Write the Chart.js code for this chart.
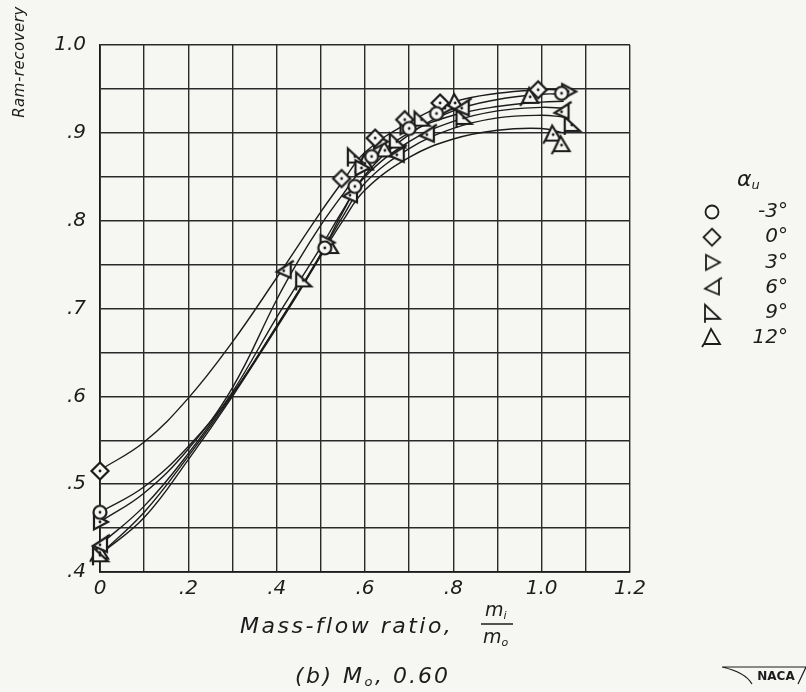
<!DOCTYPE html>
<html>
<head>
<meta charset="utf-8">
<script src="https://cdn.jsdelivr.net/npm/chart.js@4/dist/chart.umd.min.js"></script>
<style>
html, body { margin: 0; padding: 0; background: #f6f6f3; }
</style>
</head>
<body>
<canvas id="ramChart" width="806" height="692"></canvas>
<script>
// angle of attack for each series
const angles = ["-3°", "0°", "3°", "6°", "9°", "12°"];

// tick labels
const xTickLabels = ["0", ".2", ".4", ".6", ".8", "1.0", "1.2"];
const yTickLabels = [".4", ".5", ".6", ".7", ".8", ".9", "1.0"];

// test points [mass-flow ratio, ram-recovery]
const pointsM3 = [[0, 0.468], [0.509, 0.769], [0.577, 0.839], [0.615, 0.873], [0.70, 0.905], [0.762, 0.922], [1.045, 0.945]];
const points0 = [[0, 0.515], [0.547, 0.848], [0.623, 0.894], [0.69, 0.915], [0.77, 0.934], [0.992, 0.949]];
const points3 = [[0, 0.457], [0.513, 0.775], [0.592, 0.86], [0.634, 0.89], [0.694, 0.907], [0.781, 0.928], [1.06, 0.947]];
const points6 = [[0, 0.431], [0.416, 0.743], [0.566, 0.829], [0.672, 0.875], [0.74, 0.898], [0.819, 0.928], [1.045, 0.924]];
const points9 = [[0, 0.419], [0.46, 0.732], [0.577, 0.873], [0.672, 0.89], [0.728, 0.915], [0.823, 0.917], [1.068, 0.909]];
const points12 = [[0, 0.422], [0.521, 0.77], [0.60, 0.865], [0.645, 0.88], [0.804, 0.934], [0.974, 0.941], [1.026, 0.898], [1.045, 0.886]];

// faired curves
const curveM3 = [[0, 0.468], [0.1, 0.497], [0.2, 0.543], [0.3, 0.603], [0.4, 0.68], [0.45, 0.72], [0.5, 0.762], [0.55, 0.81], [0.6, 0.852], [0.7, 0.898], [0.8, 0.925], [0.9, 0.938], [1.0, 0.944], [1.05, 0.944]];
const curve0 = [[0, 0.516], [0.1, 0.548], [0.2, 0.598], [0.3, 0.662], [0.4, 0.735], [0.5, 0.81], [0.55, 0.845], [0.6, 0.878], [0.7, 0.912], [0.8, 0.935], [0.9, 0.945], [1.0, 0.949], [1.05, 0.949]];
const curve3 = [[0, 0.457], [0.1, 0.49], [0.2, 0.54], [0.3, 0.61], [0.4, 0.71], [0.45, 0.755], [0.5, 0.795], [0.55, 0.83], [0.6, 0.862], [0.7, 0.9], [0.8, 0.92], [0.9, 0.93], [1.0, 0.935], [1.05, 0.936]];
const curve6 = [[0, 0.431], [0.1, 0.475], [0.2, 0.535], [0.3, 0.605], [0.4, 0.69], [0.45, 0.73], [0.5, 0.77], [0.55, 0.812], [0.6, 0.85], [0.7, 0.89], [0.8, 0.913], [0.9, 0.925], [1.0, 0.929], [1.05, 0.928]];
const curve9 = [[0, 0.42], [0.1, 0.468], [0.2, 0.532], [0.3, 0.602], [0.4, 0.68], [0.45, 0.72], [0.5, 0.762], [0.55, 0.805], [0.6, 0.843], [0.7, 0.882], [0.8, 0.905], [0.9, 0.917], [1.0, 0.92], [1.05, 0.918]];
const curve12 = [[0, 0.42], [0.1, 0.462], [0.2, 0.528], [0.3, 0.6], [0.4, 0.678], [0.45, 0.718], [0.5, 0.76], [0.55, 0.8], [0.6, 0.835], [0.7, 0.872], [0.8, 0.893], [0.9, 0.903], [1.0, 0.905], [1.05, 0.9]];

const allPoints = [pointsM3, points0, points3, points6, points9, points12];
const allCurves = [curveM3, curve0, curve3, curve6, curve9, curve12];
const markerKinds = ["circle", "diamond", "right", "left", "flagRight", "up"];

const ink = "#1c1c1c";
const paper = "#f6f6f3";
const letterFont = "'DejaVu Sans'";

// small open symbols, drawn once into canvases
function makeMarker(kind, dot, lw) {
    const s = 24;
    const c = document.createElement("canvas");
    c.width = s;
    c.height = s;
    const g = c.getContext("2d");
    g.translate(s / 2, s / 2);
    g.lineWidth = lw;
    g.strokeStyle = ink;
    g.fillStyle = paper;
    g.lineJoin = "miter";
    g.beginPath();
    if (kind === "circle") {
        g.arc(0, 0, 6.5, 0, Math.PI * 2);
    } else if (kind === "diamond") {
        g.moveTo(0, -8.5); g.lineTo(8.5, 0); g.lineTo(0, 8.5); g.lineTo(-8.5, 0); g.closePath();
    } else if (kind === "right") {
        g.moveTo(-6, -7.5); g.lineTo(8, 0); g.lineTo(-6, 7.5); g.closePath();
    } else if (kind === "left") {
        g.moveTo(7, -8); g.lineTo(-7, 1); g.lineTo(7, 7); g.closePath();
    } else if (kind === "flagRight") {
        g.moveTo(-7, -8); g.lineTo(8, 6); g.lineTo(-7, 6); g.closePath();
    } else {
        g.moveTo(-1, -9); g.lineTo(8, 6); g.lineTo(-8, 6); g.closePath();
    }
    g.fill();
    g.stroke();
    if (kind === "left") {
        g.beginPath(); g.moveTo(7, -8); g.lineTo(10, -10); g.stroke();
    } else if (kind === "flagRight") {
        g.beginPath(); g.moveTo(-7, 6); g.lineTo(-7, 10); g.stroke();
    } else if (kind === "up") {
        g.beginPath(); g.moveTo(-8, 6); g.lineTo(-10, 9); g.stroke();
    }
    if (dot) {
        g.fillStyle = ink;
        g.beginPath();
        g.arc(0, 0, 1.4, 0, Math.PI * 2);
        g.fill();
    }
    return c;
}

const dataMarkers = markerKinds.map((k) => makeMarker(k, true, 2.2));
const legendMarkers = markerKinds.map((k) => makeMarker(k, false, 1.8));

const toXY = (arr) => arr.map((p) => ({ x: p[0], y: p[1] }));

const datasets = [];
allCurves.forEach((c, i) => {
    datasets.push({
        label: "curve " + angles[i],
        data: toXY(c),
        showLine: true,
        borderColor: ink,
        borderWidth: 1.4,
        tension: 0.4,
        pointRadius: 0,
        fill: false,
        order: 2,
    });
});
allPoints.forEach((p, i) => {
    datasets.push({
        label: angles[i],
        data: toXY(p),
        showLine: false,
        pointStyle: dataMarkers[i],
        pointRadius: 8,
        clip: false,
        order: 1,
    });
});

function drawSub(ctx, main, sub, x, y, size, spacing) {
    ctx.letterSpacing = (spacing || 0) + "px";
    ctx.font = "italic " + size + "px " + letterFont;
    ctx.fillText(main, x, y);
    const w = ctx.measureText(main).width;
    ctx.font = "italic " + Math.round(size * 0.6) + "px " + letterFont;
    ctx.fillText(sub, x + w, y + size * 0.25);
    const end = x + w + ctx.measureText(sub).width;
    ctx.letterSpacing = "0px";
    return end;
}

const paperText = {
    id: "paperText",
    beforeDraw(chart) {
        const ctx = chart.ctx;
        ctx.save();
        ctx.fillStyle = paper;
        ctx.fillRect(0, 0, chart.width, chart.height);
        ctx.restore();
    },
    afterDraw(chart) {
        const ctx = chart.ctx;
        ctx.save();
        ctx.fillStyle = ink;
        ctx.strokeStyle = ink;
        ctx.textBaseline = "middle";

        // y title, up in the corner
        ctx.save();
        ctx.translate(20, 62);
        ctx.rotate(-Math.PI / 2);
        ctx.textAlign = "center";
        ctx.font = "italic 15px " + letterFont;
        ctx.letterSpacing = "0.5px";
        ctx.fillText("Ram-recovery", 0, 0);
        ctx.restore();

        // x title with fraction
        ctx.textAlign = "left";
        ctx.letterSpacing = "2.5px";
        ctx.font = "italic 22px " + letterFont;
        ctx.fillText("Mass-flow ratio,", 240, 627);
        ctx.letterSpacing = "0px";
        drawSub(ctx, "m", "i", 485, 611, 19);
        ctx.lineWidth = 1.5;
        ctx.beginPath();
        ctx.moveTo(481, 624);
        ctx.lineTo(513, 624);
        ctx.stroke();
        drawSub(ctx, "m", "o", 483, 638, 19);

        // subtitle
        const x = drawSub(ctx, "(b) M", "o", 295, 677, 22, 2.5);
        ctx.letterSpacing = "2px";
        ctx.font = "italic 22px " + letterFont;
        ctx.fillText(", 0.60", x, 677);
        ctx.letterSpacing = "0px";

        // legend
        drawSub(ctx, "α", "u", 737, 180, 22);
        ctx.textAlign = "right";
        angles.forEach((a, i) => {
            const y = 212 + i * 25.2;
            const m = legendMarkers[i];
            ctx.drawImage(m, 712 - m.width / 2, y - m.height / 2);
            ctx.font = "italic 20px " + letterFont;
            ctx.fillText(a, 788, y);
        });

        // NACA mark
        ctx.lineWidth = 1.2;
        ctx.beginPath();
        ctx.moveTo(722, 667);
        ctx.lineTo(806, 667);
        ctx.moveTo(722, 667);
        ctx.quadraticCurveTo(745, 672, 752, 684);
        ctx.moveTo(806, 667);
        ctx.lineTo(798, 684);
        ctx.stroke();
        ctx.textAlign = "center";
        ctx.font = "bold 12px " + letterFont;
        ctx.fillText("NACA", 776, 677);
        ctx.restore();
    },
};

new Chart(document.getElementById("ramChart"), {
    type: "scatter",
    data: { datasets: datasets },
    options: {
        responsive: false,
        animation: false,
        layout: { padding: { top: 45, right: 176, left: 0, bottom: 0 } },
        plugins: {
            legend: { display: false },
            tooltip: { enabled: false },
        },
        scales: {
            x: {
                type: "linear",
                min: 0,
                max: 1.2,
                ticks: {
                    stepSize: 0.1,
                    autoSkip: false,
                    maxRotation: 0,
                    padding: 5,
                    color: ink,
                    font: { family: letterFont, style: "italic", size: 20 },
                    callback: (v) => {
                        const k = Math.round(v * 10);
                        return k % 2 === 0 ? xTickLabels[k / 2] : "";
                    },
                },
                grid: { color: "#2a2a2a", lineWidth: 1.4, drawTicks: false },
                border: { color: ink, width: 1.8 },
                afterFit: (s) => { s.height = 120; },
            },
            y: {
                type: "linear",
                min: 0.4,
                max: 1.0,
                ticks: {
                    stepSize: 0.05,
                    autoSkip: false,
                    padding: 14,
                    color: ink,
                    font: { family: letterFont, style: "italic", size: 20 },
                    callback: (v) => {
                        const k = Math.round(v * 20);
                        return k % 2 === 0 ? yTickLabels[(k - 8) / 2] : "";
                    },
                },
                grid: { color: "#2a2a2a", lineWidth: 1.4, drawTicks: false },
                border: { color: ink, width: 1.8 },
                afterFit: (s) => { s.width = 100; },
            },
        },
    },
    plugins: [paperText],
});
</script>
</body>
</html>
